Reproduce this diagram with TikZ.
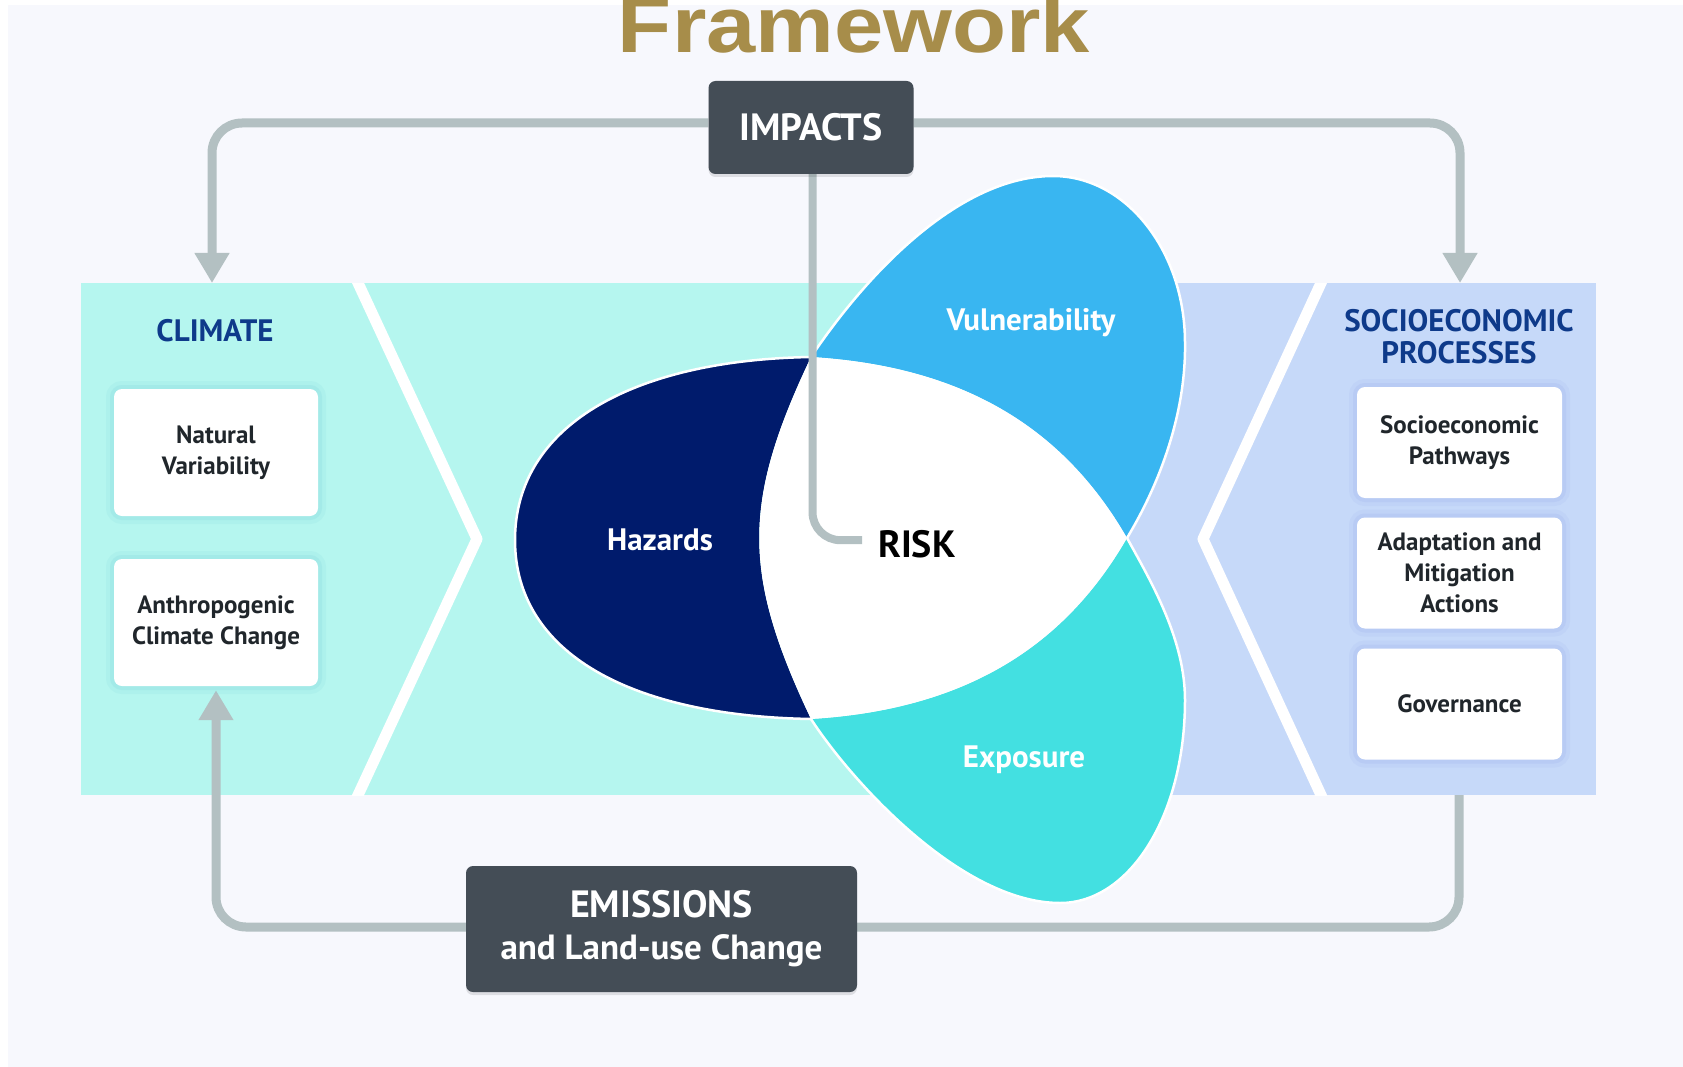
\documentclass[tikz,border=0pt]{standalone}
\usepackage{fontspec}
\setmainfont{PT Sans}
\newfontfamily\ttlfamily{Liberation Sans}
\usetikzlibrary{arrows.meta}
\pgfdeclarelayer{backlayer}
\pgfdeclarelayer{connlayer}
\pgfsetlayers{backlayer,connlayer,main}
\definecolor{pagebg}{HTML}{F7F8FD}
\definecolor{cyanp}{HTML}{B5F6EF}
\definecolor{lavp}{HTML}{C6D9F9}
\definecolor{hazc}{HTML}{001B6C}
\definecolor{vulc}{HTML}{39B6F1}
\definecolor{expc}{HTML}{43E0E1}
\definecolor{connc}{HTML}{B3C0C2}
\definecolor{darkc}{HTML}{444D56}
\definecolor{navyt}{HTML}{0E3A8A}
\definecolor{boxtext}{HTML}{20262B}
\definecolor{goldc}{HTML}{A78D4A}
\definecolor{glowl}{HTML}{6FC6D6}
\definecolor{glowr}{HTML}{8C9FE6}
\newcommand\bxfont{\fontsize{25}{31}\selectfont\bfseries}
\newcommand\hdfont{\fontsize{31}{32}\selectfont\bfseries}
\newcommand\dkfont{\fontsize{38}{44}\selectfont\bfseries}
\newcommand\emfont{\fontsize{35}{42}\selectfont\bfseries}
\newcommand\ptfont{\fontsize{31}{36}\selectfont\bfseries}
\begin{document}
\begin{tikzpicture}[x=1pt,y=-1pt,
  conn/.style={draw=connc, line width=9pt},
  tipc/.style={-{Triangle[length=30pt,width=33pt]}},
  darkbox/.style={fill=darkc, rounded corners=7pt, text=white, inner sep=0pt,
     preaction={fill=black, opacity=0.10, transform canvas={yshift=-3pt}}},
  wbox/.style={fill=white, rounded corners=8pt, inner sep=0pt, text=boxtext, align=center, font=\bxfont},
  wboxL/.style={wbox, minimum width=204pt, minimum height=127pt,
     preaction={draw=glowl, line width=16pt, opacity=0.10},
     preaction={draw=glowl, line width=8pt, opacity=0.15}},
  wboxR/.style={wbox, minimum width=205pt, minimum height=111pt,
     preaction={draw=glowr, line width=16pt, opacity=0.10},
     preaction={draw=glowr, line width=8pt, opacity=0.15}},
  head/.style={text=navyt, font=\hdfont, inner sep=0pt, align=center},
  petaltext/.style={text=white, font=\ptfont, inner sep=0pt},
  petaledge/.style={draw=white, line width=2.5pt}
]
\useasboundingbox (0,0) rectangle (1683,1067);

\begin{pgfonlayer}{backlayer}
\fill[white] (0,0) rectangle (1683,1067);
\fill[pagebg] (8,5) rectangle (1683,1067);

% panels
\fill[cyanp] (81,283) rectangle (1000,795);
\fill[lavp] (1000,283) rectangle (1596,795);
\begin{scope}
  \clip (81,283) rectangle (1596,795);
  \draw[white, line width=11pt, line join=round] (352,270) -- (477,539) -- (352,808);
  \draw[white, line width=11pt, line join=round] (1327,270) -- (1203,539) -- (1327,808);
\end{scope}

% petals
\coordinate (J1) at (811,357);
\coordinate (J2) at (1127,538);
\coordinate (J3) at (811,719);
\fill[hazc] (J1) .. controls (632,360) and (515,426) .. (515,540)
   .. controls (515,654) and (632,716) .. (J3)
   .. controls (742,574) and (742,502) .. (J1) -- cycle;
\fill[vulc] (J1) .. controls (868,272) and (960,176) .. (1053,176)
   .. controls (1126,176) and (1185,251) .. (1185,343)
   .. controls (1186,410) and (1162,480) .. (J2)
   .. controls (1062,425) and (960,366) .. (J1) -- cycle;
\fill[expc] (J3) .. controls (849,778) and (960,903) .. (1060,903)
   .. controls (1130,903) and (1185,815) .. (1185,700)
   .. controls (1185,640) and (1152,583) .. (J2)
   .. controls (1062,651) and (960,710) .. (J3) -- cycle;
\fill[white] (J1) .. controls (960,366) and (1062,425) .. (J2)
   .. controls (1062,651) and (960,710) .. (J3)
   .. controls (742,574) and (742,502) .. (J1) -- cycle;
\draw[petaledge] (J1) .. controls (632,360) and (515,426) .. (515,540)
   .. controls (515,654) and (632,716) .. (J3);
\draw[petaledge] (J1) .. controls (868,272) and (960,176) .. (1053,176)
   .. controls (1126,176) and (1185,251) .. (1185,343)
   .. controls (1186,410) and (1162,480) .. (J2);
\draw[petaledge] (J3) .. controls (849,778) and (960,903) .. (1060,903)
   .. controls (1130,903) and (1185,815) .. (1185,700)
   .. controls (1185,640) and (1152,583) .. (J2);
\end{pgfonlayer}

% title (cut at the top edge)
\node[text=goldc, font=\fontsize{79}{80}\selectfont\ttlfamily\bfseries, xscale=1.12, anchor=base, inner sep=0pt] (title) at (854,53) {Framework};

% connector end points
\coordinate (topL) at (212,283);
\coordinate (topR) at (1460,283);
\coordinate (botR) at (1459,795);

% petal labels
\node[petaltext, anchor=base] (haz) at (660,550) {Hazards};
\node[petaltext, anchor=base] (vul) at (1031,330) {Vulnerability};
\node[petaltext, anchor=base] (exp) at (1024,767) {Exposure};
\node[text=black, font=\fontsize{38}{40}\selectfont\bfseries, inner sep=0pt, anchor=base west] (risk) at (878,557) {RISK};

% headings
\node[head] (climate) at (215,331) {CLIMATE};
\node[head] (socio) at (1459,336.5) {SOCIOECONOMIC\\PROCESSES};

% white boxes
\node[wboxL] (natvar) at (216,452.5) {Natural\\Variability};
\node[wboxL] (anthro) at (216,622.5) {Anthropogenic\\Climate Change};
\node[wboxR] (sepath) at (1459.5,442.5) {Socioeconomic\\Pathways};
\node[wboxR] (adapt) at (1459.5,573) {Adaptation and\\Mitigation\\Actions};
\node[wboxR] (gov) at (1459.5,704) {Governance};

% dark boxes
\node[darkbox, minimum width=205pt, minimum height=93pt, font=\dkfont] (impacts) at (811,127.5) {IMPACTS};
\node[darkbox, minimum width=391pt, minimum height=126pt, font=\emfont, align=center] (emis) at (661.5,929) {{\fontsize{38}{42}\selectfont EMISSIONS}\\and Land-use Change};

% connectors
\begin{pgfonlayer}{connlayer}
\draw[conn, tipc, rounded corners=30pt] ([yshift=4.5pt]impacts.west) -| (topL);
\draw[conn, tipc, rounded corners=30pt] ([yshift=4.5pt]impacts.east) -| (topR);
\draw[conn, line width=8pt, rounded corners=28pt] ([xshift=1.5pt]impacts.south) |- ([xshift=-16pt,yshift=3.5pt]risk.west);
\draw[conn, rounded corners=30pt] (botR) |- ([yshift=2pt]emis.east);
\draw[conn, tipc, rounded corners=30pt, shorten >=4pt] ([yshift=2pt]emis.west) -| (anthro.south);
\end{pgfonlayer}
\end{tikzpicture}
\end{document}
